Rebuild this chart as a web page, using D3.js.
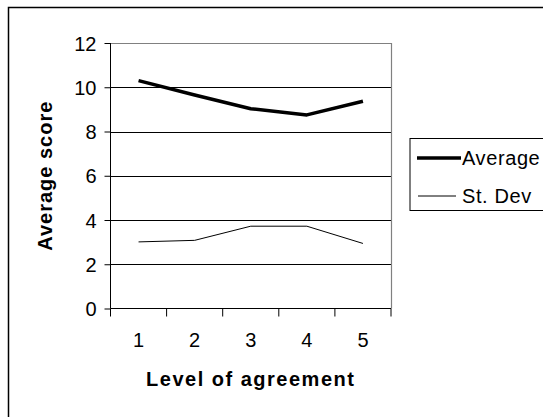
<!DOCTYPE html>
<html>
<head>
<meta charset="utf-8">
<script src="https://cdn.jsdelivr.net/npm/d3@7"></script>
<style>
  body { margin: 0; background: #fff; }
  svg text { font-family: "Liberation Sans", Arial, sans-serif; fill: #000; }
</style>
</head>
<body>
<svg width="543" height="417"></svg>
<script>
// chart data
const levels = ['1', '2', '3', '4', '5'];
const averageValues = [10.3, 9.65, 9.03, 8.75, 9.37];
const stDevValues = [3.01, 3.08, 3.72, 3.72, 2.94];
const yTicks = [0, 2, 4, 6, 8, 10, 12];
const seriesNames = ['Average', 'St. Dev'];

const svg = d3.select('svg');

// outer chart border, runs past the right and bottom edges
svg.append('rect')
    .attr('x', 8.5).attr('y', 7.5)
    .attr('width', 600).attr('height', 500)
    .attr('fill', '#fff')
    .attr('stroke', '#000')
    .attr('stroke-width', 1.5);

const plot = { left: 110.5, right: 391, top: 43, bottom: 308.5 };

const xScale = d3.scaleBand()
    .domain(levels)
    .range([plot.left, plot.right])
    .padding(0);
const yScale = d3.scaleLinear()
    .domain([0, 12])
    .range([plot.bottom, plot.top]);

// gridlines
svg.append('g')
    .selectAll('line')
    .data(yTicks.filter(function (d) { return d > 0; }))
    .enter().append('line')
    .attr('x1', plot.left).attr('x2', plot.right)
    .attr('y1', function (d) { return Math.round(yScale(d)) + 0.5; })
    .attr('y2', function (d) { return Math.round(yScale(d)) + 0.5; })
    .attr('stroke', '#000')
    .attr('stroke-width', 1);

// plot area border (top and right in gray)
svg.append('path')
    .attr('d', 'M' + plot.left + ',' + (plot.top + 0.5) + 'H' + (plot.right + 0.5) + 'V' + plot.bottom)
    .attr('fill', 'none')
    .attr('stroke', '#808080')
    .attr('stroke-width', 1.2);

// y axis
const yAxis = svg.append('g')
    .attr('transform', 'translate(' + plot.left + ',0)')
    .call(d3.axisLeft(yScale).tickValues(yTicks).tickSize(6).tickPadding(8));
yAxis.selectAll('line, path').attr('stroke', '#000');
yAxis.select('.domain').attr('d', 'M0,' + plot.top + 'V' + plot.bottom);
yAxis.selectAll('text')
    .attr('font-size', '20px')
    .attr('dy', '0.36em');

// x axis: labels centred in bands, ticks on band edges
const xAxis = svg.append('g')
    .attr('transform', 'translate(0,' + plot.bottom + ')')
    .call(d3.axisBottom(xScale).tickSize(0).tickPadding(24));
xAxis.select('.domain').attr('stroke', '#000')
    .attr('d', 'M' + plot.left + ',0H' + plot.right);
xAxis.selectAll('text').attr('font-size', '20px');
xAxis.selectAll('.edge')
    .data(levels.concat(['end']))
    .enter().append('line')
    .attr('class', 'edge')
    .attr('x1', function (d, i) { return plot.left + i * xScale.bandwidth(); })
    .attr('x2', function (d, i) { return plot.left + i * xScale.bandwidth(); })
    .attr('y1', 0).attr('y2', 8)
    .attr('stroke', '#000');

// axis titles
svg.append('text')
    .attr('x', (plot.left + plot.right) / 2)
    .attr('y', 386)
    .attr('text-anchor', 'middle')
    .attr('font-size', '20px')
    .attr('font-weight', 'bold')
    .attr('letter-spacing', '1.5px')
    .text('Level of agreement');

svg.append('text')
    .attr('transform', 'translate(52,' + ((plot.top + plot.bottom) / 2) + ') rotate(-90)')
    .attr('text-anchor', 'middle')
    .attr('font-size', '20px')
    .attr('font-weight', 'bold')
    .attr('letter-spacing', '1px')
    .text('Average score');

// series lines
const line = d3.line()
    .x(function (d, i) { return xScale(levels[i]) + xScale.bandwidth() / 2; })
    .y(function (d) { return yScale(d); });

svg.append('path')
    .datum(averageValues)
    .attr('d', line)
    .attr('fill', 'none')
    .attr('stroke', '#000')
    .attr('stroke-width', 3.5)
    .attr('stroke-linejoin', 'round');

svg.append('path')
    .datum(stDevValues)
    .attr('d', line)
    .attr('fill', 'none')
    .attr('stroke', '#000')
    .attr('stroke-width', 1);

// legend
svg.append('rect')
    .attr('x', 410).attr('y', 138.5)
    .attr('width', 200).attr('height', 72)
    .attr('fill', '#fff')
    .attr('stroke', '#000')
    .attr('stroke-width', 1);

const legend = svg.append('g')
    .selectAll('g')
    .data(seriesNames)
    .enter().append('g')
    .attr('transform', function (d, i) { return 'translate(0,' + (158 + i * 38) + ')'; });
legend.append('line')
    .attr('x1', function (d, i) { return i === 0 ? 417 : 418; })
    .attr('x2', function (d, i) { return i === 0 ? 461 : 456; })
    .attr('stroke', '#000')
    .attr('stroke-width', function (d, i) { return i === 0 ? 3.5 : 1; });
legend.append('text')
    .attr('x', 462)
    .attr('y', 7)
    .attr('font-size', '20px')
    .attr('letter-spacing', '0.6px')
    .text(function (d) { return d; });
</script>
</body>
</html>
